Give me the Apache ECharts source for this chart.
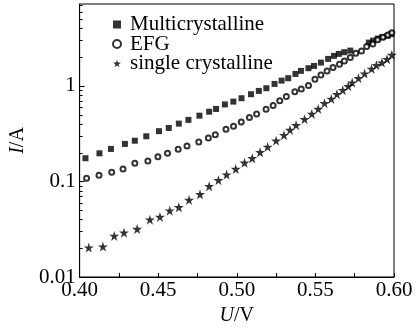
<!DOCTYPE html>
<html><head><meta charset="utf-8">
<script src="https://cdn.jsdelivr.net/npm/echarts@6/dist/echarts.min.js"></script>
<style>html,body{margin:0;padding:0;background:#fff}#c{width:419px;height:331px}</style>
</head><body><div id="c"></div>
<script>
const seriesNames = ['Multicrystalline', 'EFG', 'single crystalline'];
const multiU = [0.4037,0.4126,0.4199,0.4288,0.4351,0.4424,0.4505,0.4567,0.4631,0.4692,0.4762,0.4824,0.4868,0.4924,0.4978,0.5030,0.5090,0.5140,0.5188,0.5240,0.5285,0.5327,0.5373,0.5408,0.5456,0.5491,0.5535,0.5581,0.5618,0.5649,0.5684,0.5722,0.5840,0.5867,0.5896,0.5925,0.5958,0.5983];
const multiI = [0.175,0.197,0.219,0.247,0.267,0.297,0.336,0.363,0.403,0.441,0.488,0.537,0.574,0.640,0.685,0.743,0.819,0.887,0.946,1.049,1.136,1.204,1.335,1.436,1.532,1.619,1.754,1.917,2.062,2.164,2.254,2.342,2.84,2.98,3.13,3.24,3.34,3.48];
const efgU = [0.4044,0.4123,0.4204,0.4276,0.4351,0.4434,0.4498,0.4559,0.4627,0.4683,0.4758,0.4819,0.4863,0.4931,0.4979,0.5028,0.5080,0.5126,0.5186,0.5231,0.5273,0.5315,0.5369,0.5410,0.5456,0.5497,0.5535,0.5574,0.5612,0.5653,0.5684,0.5722,0.5757,0.5793,0.5826,0.5865,0.5896,0.5930,0.5961,0.5986];
const efgI = [0.108,0.116,0.125,0.135,0.155,0.164,0.181,0.197,0.217,0.235,0.259,0.285,0.308,0.352,0.379,0.420,0.466,0.509,0.570,0.625,0.700,0.773,0.871,0.930,1.007,1.175,1.304,1.436,1.555,1.687,1.828,1.979,2.199,2.324,2.580,2.753,3.033,3.236,3.42,3.61];
const singleU = [0.4058,0.4148,0.4220,0.4282,0.4366,0.4447,0.4511,0.4573,0.4631,0.4696,0.4766,0.4824,0.4883,0.4935,0.4993,0.5049,0.5098,0.5148,0.5196,0.5250,0.5300,0.5338,0.5377,0.5431,0.5477,0.5518,0.5558,0.5601,0.5637,0.5674,0.5709,0.5734,0.5774,0.5813,0.5857,0.5888,0.5923,0.5956,0.5986];
const singleI = [0.0203,0.0208,0.0269,0.0291,0.0318,0.0398,0.0425,0.0495,0.0537,0.0640,0.0734,0.0891,0.103,0.118,0.135,0.157,0.175,0.202,0.230,0.267,0.305,0.346,0.388,0.448,0.509,0.574,0.659,0.731,0.819,0.902,0.993,1.083,1.204,1.345,1.506,1.647,1.754,1.905,2.11];
const xTicks = [0.40, 0.45, 0.50, 0.55, 0.60];
const yTickLabels = {'-2': '0.01', '-1': '0.1', '0': '1'};
const yMinorTicks = [0.02,0.03,0.04,0.05,0.06,0.07,0.08,0.09,0.2,0.3,0.4,0.5,0.6,0.7,0.8,0.9,2,3,4,5,6,7];
const xMin = 0.40, xMax = 0.60, yMin = 0.01, yMax = 7.2;

const FONT = 'Liberation Serif';
const STAR = 'path://M0,-10 L2.245,-3.09 L9.51,-3.09 L3.633,1.18 L5.88,8.09 L0,3.82 L-5.88,8.09 L-3.633,1.18 L-9.51,-3.09 L-2.245,-3.09 Z';
const zip = (a, b) => a.map((v, i) => [v, b[i]]);

const chart = echarts.init(document.getElementById('c'), null, {renderer: 'canvas'});
chart.setOption({
  animation: false,
  backgroundColor: '#fff',
  textStyle: {fontFamily: FONT},
  grid: {left: 73, right: 25, top: 4, bottom: 54, show: true, borderColor: '#000', borderWidth: 1, backgroundColor: 'transparent'},
  legend: {
    orient: 'vertical', left: 112, top: 14, padding: 0, itemWidth: 8, itemHeight: 8, itemGap: -1.5,
    data: seriesNames,
    textStyle: {fontFamily: FONT, fontSize: 21, color: '#000', padding: [0, 0, 0, 4]}
  },
  xAxis: {
    type: 'value', min: xMin, max: xMax, interval: 0.05,
    name: '{i|U}/V', nameLocation: 'middle', nameGap: 19,
    nameTextStyle: {fontFamily: FONT, fontSize: 20, color: '#000', rich: {i: {fontFamily: FONT, fontSize: 20, fontStyle: 'italic', color: '#000'}}},
    axisLine: {lineStyle: {color: '#000', width: 1}},
    axisTick: {inside: true, length: 4, lineStyle: {color: '#000'}},
    minorTick: {show: true, splitNumber: 2, length: 4, lineStyle: {color: '#000'}},
    splitLine: {show: false},
    axisLabel: {fontFamily: FONT, fontSize: 21, color: '#000', margin: 3, formatter: v => v.toFixed(2)}
  },
  yAxis: {
    type: 'log', logBase: 10, min: yMin, max: yMax,
    name: '{i|I}/A', nameLocation: 'middle', nameGap: 36,
    nameTextStyle: {fontFamily: FONT, fontSize: 20, color: '#000', rich: {i: {fontFamily: FONT, fontSize: 20, fontStyle: 'italic', color: '#000'}}},
    axisLine: {lineStyle: {color: '#000', width: 1}},
    axisTick: {inside: true, length: 5, lineStyle: {color: '#000'}},
    splitLine: {show: false},
    axisLabel: {fontFamily: FONT, fontSize: 21, color: '#000', margin: 4, showMaxLabel: false,
      formatter: v => { const l = Math.round(Math.log10(v)); return Math.abs(Math.log10(v) - l) < 1e-6 && yTickLabels[String(l)] !== undefined ? yTickLabels[String(l)] : ''; }}
  },
  series: [
    {name: seriesNames[0], type: 'scatter', symbol: 'rect', symbolSize: 6, itemStyle: {color: '#000'}, data: zip(multiU, multiI)},
    {name: seriesNames[1], type: 'scatter', symbol: 'emptyCircle', symbolSize: 5, itemStyle: {color: '#000', borderColor: '#000', borderWidth: 1}, data: zip(efgU, efgI)},
    {name: seriesNames[2], type: 'scatter', symbol: STAR, symbolSize: 10, itemStyle: {color: '#000'}, data: zip(singleU, singleI)},
    {type: 'custom', silent: true, clip: false, data: yMinorTicks.map(v => [xMin, v]),
      renderItem: (params, api) => {
        const p = api.coord([api.value(0), api.value(1)]);
        const y = Math.round(p[1]) + 0.5;
        return {type: 'line', shape: {x1: p[0], y1: y, x2: p[0] + 3, y2: y}, style: {stroke: '#000', lineWidth: 1}};
      }}
  ]
});
</script></body></html>
